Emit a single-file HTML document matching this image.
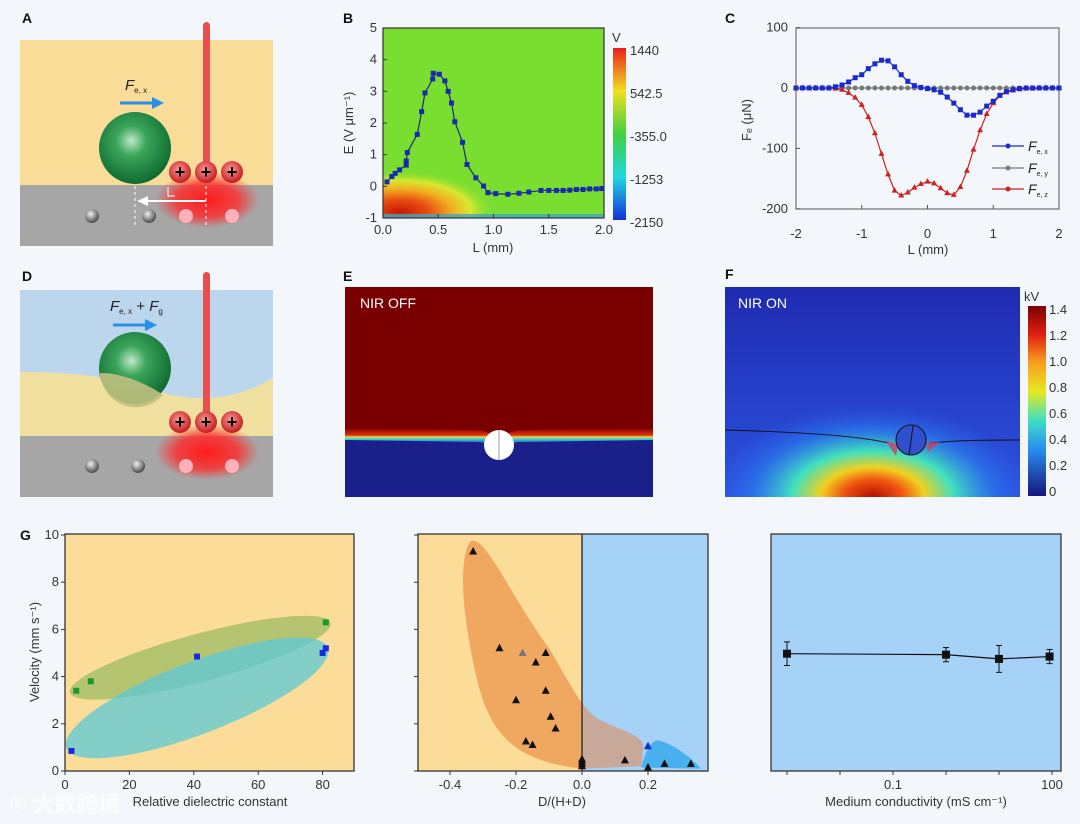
<!DOCTYPE html>
<html><head><meta charset="utf-8"><style>
html,body{margin:0;padding:0;background:#f3f7fb;}
svg{display:block;font-family:"Liberation Sans","Noto Sans CJK SC",sans-serif;}
.t{font-size:13px;fill:#333;}
.lab{font-size:14px;font-weight:bold;fill:#111;}
</style></head><body>
<svg id="fig" width="1080" height="824" viewBox="0 0 1080 824" xmlns="http://www.w3.org/2000/svg">
<defs>
  <radialGradient id="gsph" cx="0.45" cy="0.4" r="0.6"><stop offset="0" stop-color="#bfe8c8"/><stop offset="0.35" stop-color="#3aa55a"/><stop offset="1" stop-color="#0f6a30"/></radialGradient>
  <radialGradient id="rsph" cx="0.45" cy="0.4" r="0.6"><stop offset="0" stop-color="#ff9a9a"/><stop offset="1" stop-color="#c21a1a"/></radialGradient>
  <radialGradient id="gray" cx="0.4" cy="0.35" r="0.6"><stop offset="0" stop-color="#f0f0f0"/><stop offset="1" stop-color="#555"/></radialGradient>
  <radialGradient id="glow" cx="0.5" cy="0.5" r="0.5"><stop offset="0" stop-color="#ff1a1a"/><stop offset="0.6" stop-color="#ff2a2a" stop-opacity="0.8"/><stop offset="1" stop-color="#ff3030" stop-opacity="0"/></radialGradient>
  <linearGradient id="jet" x1="0" y1="0" x2="0" y2="1"><stop offset="0" stop-color="#e8201a"/><stop offset="0.25" stop-color="#f0e020"/><stop offset="0.5" stop-color="#40d040"/><stop offset="0.75" stop-color="#20d8e0"/><stop offset="1" stop-color="#1530d8"/></linearGradient>
  <linearGradient id="jet2" x1="0" y1="0" x2="0" y2="1"><stop offset="0" stop-color="#7a0000"/><stop offset="0.15" stop-color="#e02010"/><stop offset="0.3" stop-color="#f8a020"/><stop offset="0.45" stop-color="#e8e820"/><stop offset="0.6" stop-color="#40e0c0"/><stop offset="0.75" stop-color="#2a90f0"/><stop offset="1" stop-color="#15157a"/></linearGradient>
  <radialGradient id="bheat" cx="0.5" cy="0.5" r="0.5"><stop offset="0" stop-color="#c81808"/><stop offset="0.3" stop-color="#e85010"/><stop offset="0.55" stop-color="#f0b020"/><stop offset="0.75" stop-color="#d8e830"/><stop offset="1" stop-color="#7ade30" stop-opacity="0"/></radialGradient>
  <linearGradient id="eband" x1="0" y1="0" x2="0" y2="1"><stop offset="0" stop-color="#7a0000"/><stop offset="0.4" stop-color="#e03010"/><stop offset="0.5" stop-color="#e8e030"/><stop offset="0.6" stop-color="#40d0e0"/><stop offset="1" stop-color="#1a1f8a"/></linearGradient>
  <linearGradient id="fbg" x1="0" y1="0" x2="0" y2="1"><stop offset="0" stop-color="#1f2bb0"/><stop offset="1" stop-color="#2c52e0"/></linearGradient>
  <radialGradient id="fheat" cx="0.5" cy="1" r="0.55" gradientTransform="translate(0.5 1) scale(1 0.8) translate(-0.5 -1)"><stop offset="0" stop-color="#b01000"/><stop offset="0.18" stop-color="#f05010"/><stop offset="0.32" stop-color="#f0d020"/><stop offset="0.5" stop-color="#40e0c0"/><stop offset="0.75" stop-color="#2a80f0" stop-opacity="0.6"/><stop offset="1" stop-color="#2a60e8" stop-opacity="0"/></radialGradient>
  <clipPath id="clipL"><rect x="418" y="536" width="164" height="236"/></clipPath>
  <clipPath id="clipR"><rect x="582" y="536" width="126" height="236"/></clipPath>
  <clipPath id="clipB"><rect x="383" y="28" width="221" height="190"/></clipPath>
</defs>

<!-- Panel A -->
<g>
  <text class="lab" x="22" y="23">A</text>
  <rect x="20" y="40" width="253" height="145" fill="#f8dc98"/>
  <rect x="20" y="185" width="253" height="61" fill="#a6a6a6"/>
  <ellipse cx="207" cy="200" rx="52" ry="28" fill="url(#glow)"/>
  <rect x="203" y="22" width="7" height="150" rx="3.5" fill="#e85050"/>
  <circle cx="135" cy="148" r="36" fill="url(#gsph)"/>
  <circle cx="92" cy="216" r="7" fill="url(#gray)"/><circle cx="149" cy="216" r="7" fill="url(#gray)"/>
  <circle cx="186" cy="216" r="7" fill="#ffb0b8"/><circle cx="232" cy="216" r="7" fill="#ffb0b8"/>
  <g font-size="18" font-weight="bold" text-anchor="middle">
    <circle cx="180" cy="172" r="11" fill="url(#rsph)"/><text x="180" y="178">+</text>
    <circle cx="206" cy="172" r="11" fill="url(#rsph)"/><text x="206" y="178">+</text>
    <circle cx="232" cy="172" r="11" fill="url(#rsph)"/><text x="232" y="178">+</text>
  </g>
  <line x1="135" y1="186" x2="135" y2="225" stroke="#fff" stroke-dasharray="3,3"/>
  <line x1="206" y1="186" x2="206" y2="225" stroke="#fff" stroke-dasharray="3,3"/>
  <line x1="145" y1="201" x2="206" y2="201" stroke="#fff" stroke-width="2"/>
  <polygon points="137,201 148,196 148,206" fill="#fff"/>
  <polyline points="168,187 168,196 175,196" fill="none" stroke="#fff"/>
  <line x1="120" y1="103" x2="155" y2="103" stroke="#2a8ee8" stroke-width="3"/>
  <polygon points="164,103 152,97 152,109" fill="#2a8ee8"/>
  <text x="125" y="90" font-size="15" font-style="italic" fill="#222">F<tspan font-size="8" font-style="normal" dy="3">e, x</tspan></text>
</g>

<!-- Panel D -->
<g>
  <text class="lab" x="22" y="281">D</text>
  <rect x="20" y="290" width="253" height="146" fill="#bcd6ee"/>
  <path d="M20,372 C80,372 120,378 160,392 C200,404 240,398 273,378 L273,436 L20,436 Z" fill="#f0e0a0"/>
  <rect x="20" y="436" width="253" height="61" fill="#a6a6a6"/>
  <ellipse cx="207" cy="452" rx="52" ry="28" fill="url(#glow)"/>
  <rect x="203" y="272" width="7" height="150" rx="3.5" fill="#e85050"/>
  <circle cx="135" cy="368" r="36" fill="url(#gsph)"/>
  <path d="M100,373 C120,372 150,385 163,395 A36,36 0 0 1 100,373 Z" fill="#c0c080" opacity="0.9"/>
  <circle cx="92" cy="466" r="7" fill="url(#gray)"/><circle cx="138" cy="466" r="7" fill="url(#gray)"/>
  <circle cx="186" cy="466" r="7" fill="#ffb0b8"/><circle cx="232" cy="466" r="7" fill="#ffb0b8"/>
  <g font-size="18" font-weight="bold" text-anchor="middle">
    <circle cx="180" cy="422" r="11" fill="url(#rsph)"/><text x="180" y="428">+</text>
    <circle cx="206" cy="422" r="11" fill="url(#rsph)"/><text x="206" y="428">+</text>
    <circle cx="232" cy="422" r="11" fill="url(#rsph)"/><text x="232" y="428">+</text>
  </g>
  <line x1="113" y1="325" x2="148" y2="325" stroke="#2a8ee8" stroke-width="3"/>
  <polygon points="157,325 145,319 145,331" fill="#2a8ee8"/>
  <text x="110" y="311" font-size="15" font-style="italic" fill="#222">F<tspan font-size="8" font-style="normal" dy="3">e, x</tspan><tspan dy="-3" font-style="normal"> + </tspan>F<tspan font-size="8" font-style="normal" dy="3">g</tspan></text>
</g>

<!-- Panel B -->
<g id="pb">
  <text class="lab" x="343" y="23">B</text>
  <rect x="383" y="28" width="221" height="190" fill="#7ade30"/>
  <ellipse cx="400" cy="212" rx="95" ry="42" fill="url(#bheat)" clip-path="url(#clipB)"/>
  <rect x="383" y="214" width="221" height="4" fill="#40a8c0" opacity="0.8"/>
  <rect x="383" y="28" width="221" height="190" fill="none" stroke="#333" stroke-width="1.2"/>
  <rect x="613" y="48" width="13" height="172" fill="url(#jet)"/>
  <text class="t" x="612" y="42" font-size="14">V</text>
  <g class="t" font-size="12">
    <text x="630" y="55">1440</text><text x="630" y="98">542.5</text><text x="630" y="141">-355.0</text><text x="630" y="184">-1253</text><text x="630" y="227">-2150</text>
  </g>
</g>

<!-- Panel C -->
<g id="pc">
  <text class="lab" x="725" y="23">C</text>
  <rect x="796" y="28" width="263" height="181" fill="none" stroke="#555" stroke-width="1"/>
</g>

<!-- Panel E -->
<g>
  <text class="lab" x="343" y="281" font-weight="normal">E</text>
  <rect x="345" y="287" width="308" height="210" fill="#7a0000"/>
  <rect x="345" y="438" width="308" height="59" fill="#1a1f8a"/>
  <path d="M345,428 L480,430 L499,436 L518,430 L653,428 L653,440 L518,442 L499,446 L480,442 L345,440 Z" fill="url(#eband)"/>
  <circle cx="499" cy="445" r="15" fill="#fff"/>
  <line x1="499" y1="430" x2="499" y2="460" stroke="#888" stroke-width="0.8"/>
  <text x="360" y="308" font-size="14" fill="#fff">NIR OFF</text>
</g>

<!-- Panel F -->
<g>
  <text class="lab" x="725" y="279" font-weight="normal">F</text>
  <rect x="725" y="287" width="295" height="210" fill="url(#fbg)"/>
  <rect x="725" y="287" width="295" height="210" fill="url(#fheat)"/>
  <path d="M725,430 C800,432 860,436 888,443 M930,443 C960,440 990,440 1020,440" stroke="#111" fill="none" stroke-width="0.9"/>
  <polygon points="885,440 898,445 896,456" fill="#d04060" opacity="0.8"/>
  <polygon points="926,443 940,442 928,452" fill="#d04060" opacity="0.8"/>
  <circle cx="911" cy="440" r="15" fill="#3050d0" stroke="#111" stroke-width="1"/>
  <line x1="913" y1="426" x2="909" y2="455" stroke="#111" stroke-width="1"/>
  <text x="738" y="308" font-size="14" fill="#fff">NIR ON</text>
  <rect x="1028" y="306" width="18" height="190" fill="url(#jet2)"/>
  <text class="t" x="1024" y="301" font-size="14">kV</text>
  <g class="t" font-size="11.5">
    <text x="1049" y="314">1.4</text><text x="1049" y="340">1.2</text><text x="1049" y="366">1.0</text><text x="1049" y="392">0.8</text><text x="1049" y="418">0.6</text><text x="1049" y="444">0.4</text><text x="1049" y="470">0.2</text><text x="1049" y="496">0</text>
  </g>
</g>

<!-- Panel G -->
<g id="g1">
  <text class="lab" x="20" y="540" font-weight="normal">G</text>
  <rect x="65" y="534" width="289" height="237" fill="#fbdc98"/>
</g>
<g id="g2">
  <rect x="418" y="534" width="164" height="237" fill="#fbdc98"/>
  <rect x="582" y="534" width="126" height="237" fill="#a6d2f8"/>
</g>
<g id="g3">
  <rect x="771" y="534" width="290" height="237" fill="#a6d2f8"/>
</g>
<text x="10" y="812" font-size="22" fill="#fff" opacity="0.8" font-weight="bold">℗ 大数跨境</text>
</svg>
<script>
// ---- Panel B data ----
const bL=[0.036,0.08,0.11,0.15,0.21,0.21,0.22,0.31,0.35,0.38,0.45,0.455,0.51,0.56,0.59,0.62,0.65,0.72,0.76,0.84,0.91,0.95,1.02,1.13,1.23,1.32,1.43,1.5,1.57,1.63,1.69,1.75,1.81,1.87,1.93,1.98];
const bE=[0.14,0.31,0.41,0.52,0.67,0.8,1.07,1.64,2.36,2.95,3.39,3.57,3.54,3.33,3.0,2.63,2.04,1.39,0.69,0.27,0.01,-0.2,-0.23,-0.25,-0.22,-0.18,-0.13,-0.13,-0.13,-0.13,-0.12,-0.1,-0.1,-0.08,-0.08,-0.07];
const bXTicks=[0,0.5,1,1.5,2], bXLabels=["0.0","0.5","1.0","1.5","2.0"];
const bYTicks=[-1,0,1,2,3,4,5];
// ---- Panel C data ----
const cL=[-2,-1.9,-1.8,-1.7,-1.6,-1.5,-1.4,-1.3,-1.2,-1.1,-1,-0.9,-0.8,-0.7,-0.6,-0.5,-0.4,-0.3,-0.2,-0.1,0,0.1,0.2,0.3,0.4,0.5,0.6,0.7,0.8,0.9,1,1.1,1.2,1.3,1.4,1.5,1.6,1.7,1.8,1.9,2];
const cFx=[0,0,0,0,0,0,2,5,10,17,22,32,40,46,45,35,22,11,4,1,-1,-3,-7,-15,-25,-36,-45,-45,-40,-30,-22,-12,-6,-3,-1,0,0,0,0,0,0];
const cFy=[0,0,0,0,0,0,0,0,0,0,0,0,0,0,0,0,0,0,0,0,0,0,0,0,0,0,0,0,0,0,0,0,0,0,0,0,0,0,0,0,0];
const cFz=[0,0,0,0,0,0,-1,-3,-8,-16,-28,-48,-75,-109,-143,-170,-178,-173,-165,-159,-155,-158,-166,-174,-177,-164,-137,-102,-70,-43,-25,-13,-7,-4,-2,-1,-1,0,0,0,0];
const cXTicks=[-2,-1,0,1,2], cYTicks=[100,0,-100,-200];
// ---- Panel G data ----
const g1GreenX=[3.5,8,81], g1GreenV=[3.4,3.8,6.3];
const g1BlueX=[2,41,80,81], g1BlueV=[0.85,4.85,5.0,5.2];
const g1XTicks=[0,20,40,60,80], vTicks=[0,2,4,6,8,10];
const g2D=[-0.33,-0.25,-0.18,-0.11,-0.14,-0.11,-0.2,-0.095,-0.08,-0.17,-0.15,0,0,0,0,0.13,0.2,0.2,0.25,0.33];
const g2V=[9.3,5.2,5.0,5.0,4.6,3.4,3.0,2.3,1.8,1.25,1.1,0.5,0.4,0.3,0.2,0.45,1.05,0.15,0.3,0.3];
const g2XTicks=[-0.4,-0.2,0,0.2], g2XLabels=["-0.4","-0.2","0.0","0.2"];
const g3C=[0.001,1,10,90], g3V=[4.97,4.93,4.75,4.85], g3Err=[0.5,0.3,0.57,0.3];
const g3XTicks=[0.001,0.01,0.1,1,10,100], g3XLabels=["","","0.1","","","100"];

const NS="http://www.w3.org/2000/svg";
function mk(parent,tag,attrs,txt){const e=document.createElementNS(NS,tag);for(const k in attrs)e.setAttribute(k,attrs[k]);if(txt!==undefined)e.textContent=txt;parent.appendChild(e);return e;}

// Panel B
(function(){
 const g=document.getElementById('pb');
 const x=v=>383+v/2*221, y=v=>218-(v+1)/6*190;
 const pts=bL.map((l,i)=>x(l)+','+y(bE[i])).join(' ');
 const ln=mk(g,'polyline',{points:pts,fill:'none',stroke:'#1a2a7a','stroke-width':1.2});
 
 
 bL.forEach((l,i)=>{const r=mk(g,'rect',{x:x(l)-2.5,y:y(bE[i])-2.5,width:5,height:5,fill:'#1a2ab0'});
  
  });
 bXTicks.forEach((t,i)=>{mk(g,'line',{x1:x(t),x2:x(t),y1:218,y2:214,stroke:'#333'});
  const tx=mk(g,'text',{x:x(t),y:234,'text-anchor':'middle',class:'t'},bXLabels[i]);
  
  });
 bYTicks.forEach(t=>{mk(g,'line',{x1:383,x2:387,y1:y(t),y2:y(t),stroke:'#333'});
  const tx=mk(g,'text',{x:377,y:y(t)+4,'text-anchor':'end',class:'t'},String(t));
  
  });
 const xt=mk(g,'text',{x:493,y:252,'text-anchor':'middle',class:'t','font-size':14},'L (mm)');
 
 
 const yt=mk(g,'text',{x:0,y:0,transform:'translate(353,123) rotate(-90)','text-anchor':'middle',class:'t','font-size':14},'E (V μm⁻¹)');
 
 
})();

// Panel C
(function(){
 const g=document.getElementById('pc');
 const x=v=>796+(v+2)/4*263, y=v=>88-v/100*60.4;
 function series(vals,color,shape,name){
  const ln=mk(g,'polyline',{points:cL.map((l,i)=>x(l)+','+y(vals[i])).join(' '),fill:'none',stroke:color,'stroke-width':1.2});
  
  
  cL.forEach((l,i)=>{const cx=x(l),cy=y(vals[i]);let m;
   if(shape==='s')m=mk(g,'rect',{x:cx-2.5,y:cy-2.5,width:5,height:5,fill:color});
   else if(shape==='c')m=mk(g,'circle',{cx:cx,cy:cy,r:2.5,fill:color});
   else m=mk(g,'polygon',{points:`${cx},${cy-3.5} ${cx-3},${cy+2} ${cx+3},${cy+2}`,fill:color});
   
   });
 }
 series(cFy,'#777','c','fe-y');
 series(cFz,'#d02020','t','fe-z');
 series(cFx,'#1a2ad0','s','fe-x');
 cXTicks.forEach(t=>{mk(g,'line',{x1:x(t),x2:x(t),y1:209,y2:205,stroke:'#555'});
  const tx=mk(g,'text',{x:x(t),y:238,'text-anchor':'middle',class:'t'},String(t));
  
  });
 cYTicks.forEach(t=>{mk(g,'line',{x1:796,x2:800,y1:y(t),y2:y(t),stroke:'#555'});
  const tx=mk(g,'text',{x:788,y:y(t)+4,'text-anchor':'end',class:'t'},String(t));
  
  });
 const xt=mk(g,'text',{x:928,y:254,'text-anchor':'middle',class:'t','font-size':14},'L (mm)');
 
 
 const yt=mk(g,'text',{x:0,y:0,transform:'translate(751,120) rotate(-90)','text-anchor':'middle',class:'t','font-size':13},'Fₑ (μN)');
 
 
 [['#1a2ad0','x',146],['#777','y',168],['#d02020','z',189]].forEach(([c,s,yy])=>{
  mk(g,'line',{x1:992,x2:1024,y1:yy,y2:yy,stroke:c,'stroke-width':1.3});
  mk(g,'circle',{cx:1008,cy:yy,r:2.5,fill:c});
  const tx=mk(g,'text',{x:1028,y:yy+5,'font-size':14,'font-style':'italic',fill:'#222'});
  tx.innerHTML='F<tspan font-size="7" font-style="normal" dy="3">e, '+s+'</tspan>';
  
  
 });
})();

// Panel G common
const gy=v=>771-v*23.6;
function yAxis(g,x0,labels){vTicks.forEach(t=>{mk(g,'line',{x1:x0,x2:x0-4,y1:gy(t),y2:gy(t),stroke:'#333'});
 if(labels){const tx=mk(g,'text',{x:x0-6,y:gy(t)+4,'text-anchor':'end',class:'t'},String(t));
  
  }});}

// G1
(function(){
 const g=document.getElementById('g1');
 const x=v=>65+v*3.22;
 mk(g,'ellipse',{cx:x(42),cy:gy(4.8),rx:135,ry:24,transform:`rotate(-15 ${x(42)} ${gy(4.8)})`,fill:'#a8c068',opacity:0.85});
 mk(g,'ellipse',{cx:x(41),cy:gy(3.1),rx:140,ry:36,transform:`rotate(-21 ${x(41)} ${gy(3.1)})`,fill:'#5ccad8',opacity:0.75});
 g1GreenX.forEach((v,i)=>{const r=mk(g,'rect',{x:x(v)-3,y:gy(g1GreenV[i])-3,width:6,height:6,fill:'#1a9a2a'});
  
  });
 g1BlueX.forEach((v,i)=>{const r=mk(g,'rect',{x:x(v)-3,y:gy(g1BlueV[i])-3,width:6,height:6,fill:'#1a2ae0'});
  
  });
 mk(g,'rect',{x:65,y:534,width:289,height:237,fill:'none',stroke:'#333','stroke-width':1.3});
 g1XTicks.forEach(t=>{mk(g,'line',{x1:x(t),x2:x(t),y1:771,y2:775,stroke:'#333'});
  const tx=mk(g,'text',{x:x(t),y:789,'text-anchor':'middle',class:'t'},String(t));
  
  });
 yAxis(g,65,true);
 const xt=mk(g,'text',{x:210,y:806,'text-anchor':'middle',class:'t','font-size':14},'Relative dielectric constant');
 
 
 const yt=mk(g,'text',{x:0,y:0,transform:'translate(39,652) rotate(-90)','text-anchor':'middle',class:'t','font-size':14},'Velocity (mm s⁻¹)');
 
 
})();

// G2
(function(){
 const g=document.getElementById('g2');
 const x=v=>582+v*330;
 const blob=`M${x(-0.34)},${gy(9.7)} C${x(-0.3)},${gy(10.2)} ${x(-0.22)},${gy(7.5)} ${x(-0.1)},${gy(5.2)} C${x(-0.04)},${gy(3.8)} ${x(0.0)},${gy(2.6)} ${x(0.05)},${gy(2.2)} C${x(0.12)},${gy(1.7)} ${x(0.19)},${gy(1.5)} ${x(0.185)},${gy(1.0)} L${x(0.18)},${gy(0.2)} L${x(0.0)},${gy(0.1)} C${x(-0.2)},${gy(0.4)} ${x(-0.28)},${gy(1.5)} ${x(-0.32)},${gy(4)} C${x(-0.37)},${gy(7)} ${x(-0.37)},${gy(9)} ${x(-0.34)},${gy(9.7)} Z`;
 mk(g,'path',{d:`M${x(0.18)},${gy(0.15)} C${x(0.19)},${gy(0.8)} ${x(0.21)},${gy(1.3)} ${x(0.23)},${gy(1.3)} C${x(0.27)},${gy(1.2)} ${x(0.33)},${gy(0.6)} ${x(0.36)},${gy(0.1)} Z`,fill:'#48b0ee'});
 mk(g,'path',{d:blob,fill:'#f0a860','clip-path':'url(#clipL)'});
 mk(g,'path',{d:blob,fill:'#c8a898','clip-path':'url(#clipR)'});
 mk(g,'line',{x1:582,x2:582,y1:534,y2:771,stroke:'#222','stroke-width':1.3});
 g2D.forEach((d,i)=>{const cx=x(d),cy=gy(g2V[i]);
  const c=(i===2)?'#777':(i===16?'#1a2ad0':'#111');
  const p=mk(g,'polygon',{points:`${cx},${cy-4.5} ${cx-4},${cy+3} ${cx+4},${cy+3}`,fill:c});
  
  });
 mk(g,'rect',{x:418,y:534,width:290,height:237,fill:'none',stroke:'#333','stroke-width':1.3});
 g2XTicks.forEach((t,i)=>{mk(g,'line',{x1:x(t),x2:x(t),y1:771,y2:775,stroke:'#333'});
  const tx=mk(g,'text',{x:x(t),y:789,'text-anchor':'middle',class:'t'},g2XLabels[i]);
  
  });
 yAxis(g,418,false);
 const xt=mk(g,'text',{x:562,y:806,'text-anchor':'middle',class:'t','font-size':14},'D/(H+D)');
 
 
})();

// G3
(function(){
 const g=document.getElementById('g3');
 const x=v=>893+Math.log10(v/0.1)*53;
 const ln=mk(g,'polyline',{points:g3C.map((c,i)=>x(c)+','+gy(g3V[i])).join(' '),fill:'none',stroke:'#111','stroke-width':1.2});
 
 
 g3C.forEach((c,i)=>{const cx=x(c),cy=gy(g3V[i]),e=g3Err[i]*23.6;
  mk(g,'line',{x1:cx,x2:cx,y1:cy-e,y2:cy+e,stroke:'#111'});
  mk(g,'line',{x1:cx-3,x2:cx+3,y1:cy-e,y2:cy-e,stroke:'#111'});
  mk(g,'line',{x1:cx-3,x2:cx+3,y1:cy+e,y2:cy+e,stroke:'#111'});
  const r=mk(g,'rect',{x:cx-4,y:cy-4,width:8,height:8,fill:'#111'});
  
  });
 mk(g,'rect',{x:771,y:534,width:290,height:237,fill:'none',stroke:'#333','stroke-width':1.3});
 g3XTicks.forEach((t,i)=>{mk(g,'line',{x1:x(t),x2:x(t),y1:771,y2:775,stroke:'#333'});
  const tx=mk(g,'text',{x:x(t),y:789,'text-anchor':'middle',class:'t'},g3XLabels[i]);
  
  });
 const xt=mk(g,'text',{x:916,y:806,'text-anchor':'middle',class:'t','font-size':14},'Medium conductivity (mS cm⁻¹)');
 
 
})();
</script>
</body></html>
